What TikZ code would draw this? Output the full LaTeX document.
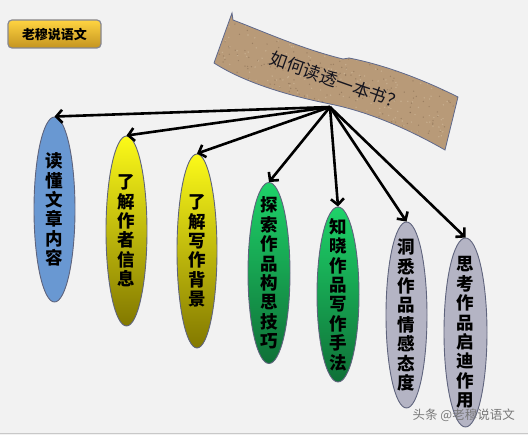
\documentclass[tikz,border=0pt]{standalone}
\usepackage{fontspec}
\newfontfamily\cjk{Noto Sans CJK SC}
\usetikzlibrary{shapes.geometric,arrows.meta}
\definecolor{bg}{RGB}{242,242,242}
\definecolor{tan}{RGB}{184,154,120}
\definecolor{tandark}{RGB}{120,95,70}
\definecolor{tanlight}{RGB}{215,195,165}
\definecolor{bandedge}{RGB}{95,105,140}
\definecolor{ellblue}{RGB}{105,152,210}
\definecolor{elledge}{RGB}{95,100,125}
\definecolor{ytop}{RGB}{252,250,25}
\definecolor{ymid}{RGB}{222,215,10}
\definecolor{ybot}{RGB}{130,120,0}
\definecolor{gtop}{RGB}{30,210,105}
\definecolor{gbot}{RGB}{15,112,55}
\definecolor{ellgray}{RGB}{180,180,196}
\definecolor{btntop}{RGB}{255,212,65}
\definecolor{btnbot}{RGB}{196,148,32}
\tikzset{
  ell/.style={ellipse, draw=elledge, line width=0.9pt, inner sep=0pt},
  blueell/.style={ell, fill=ellblue},
  yell/.style={ell, top color=ytop, middle color=ymid, bottom color=ybot},
  gell/.style={ell, top color=gtop, bottom color=gbot},
  grayell/.style={ell, fill=ellgray},
  vtext/.style={align=center, inner sep=0pt, text=black,
    font=\cjk\bfseries\fontsize{17.5}{19.4}\selectfont},
  arr/.style={line width=2.6pt, -{Straight Barb[length=6pt,width=13pt]}},
}
\begin{document}
\begin{tikzpicture}[x=1pt,y=-1pt]
\fill[bg] (0,0) rectangle (528,435);
\useasboundingbox (0,0) rectangle (528,435);
\draw[line width=1pt, color={rgb,255:red,200;green,200;blue,200}] (0,433.5) -- (528,433.5);

% button
\node[draw={rgb,255:red,135;green,135;blue,145}, line width=1.2pt, rounded corners=4pt,
  top color=btntop, bottom color=btnbot, minimum width=93pt, minimum height=28pt,
  inner sep=0pt, font=\cjk\bfseries\fontsize{13}{13}\selectfont] (btn) at (54.5,34) {老穆说语文};

% banner
\def\bannerpath{(232,13) -- (233,20) .. controls (262,31) and (302,49) .. (343,59) -- (349,58) .. controls (390,66) and (430,83) .. (458,97) -- (445,150) .. controls (410,130) and (370,112) .. (330,104) .. controls (290,96) and (245,83) .. (214,63) -- cycle}
\fill[tan] \bannerpath;
\begin{scope}
  \clip \bannerpath;
  \pgfmathsetseed{7}
  \foreach \i in {1,...,500}{
    \pgfmathsetmacro\px{210+250*rnd}
    \pgfmathsetmacro\py{10+145*rnd}
    \fill[tandark, opacity=0.45] (\px,\py) circle (0.7pt);
  }
  \foreach \i in {1,...,400}{
    \pgfmathsetmacro\px{210+250*rnd}
    \pgfmathsetmacro\py{10+145*rnd}
    \fill[tanlight, opacity=0.5] (\px,\py) circle (0.8pt);
  }
\end{scope}
\draw[bandedge, line width=0.8pt] \bannerpath;
\node[rotate=-19.5, inner sep=0pt, font=\cjk\fontsize{17.5}{17.5}\selectfont, text={rgb,255:red,20;green,20;blue,30}] (title) at (337,81) {如何读透一本书？};

\coordinate (src) at (330,107);

% ellipses
\node[blueell, minimum width=41pt, minimum height=185pt] (e1) at (54.5,209.5) {};
\node[yell, minimum width=41pt, minimum height=190pt] (e2) at (126.5,231) {};
\node[yell, minimum width=40pt, minimum height=194pt] (e3) at (197,251) {};
\node[gell, minimum width=42pt, minimum height=181pt] (e4) at (269,273) {};
\node[gell, minimum width=42pt, minimum height=175pt] (e5) at (338,294.5) {};
\node[grayell, minimum width=41pt, minimum height=186pt] (e6) at (406.5,315) {};
\node[grayell, minimum width=43pt, minimum height=189pt] (e7) at (465.5,332.5) {};

\node[vtext] (t1) at (e1) {读\\懂\\文\\章\\内\\容};
\node[vtext] (t2) at (e2) {了\\解\\作\\者\\信\\息};
\node[vtext] (t3) at (e3) {了\\解\\写\\作\\背\\景};
\node[vtext] (t4) at (e4) {探\\索\\作\\品\\构\\思\\技\\巧};
\node[vtext] (t5) at (e5) {知\\晓\\作\\品\\写\\作\\手\\法};
\node[vtext] (t6) at (e6) {洞\\悉\\作\\品\\情\\感\\态\\度};
\node[vtext] (t7) at (e7) {思\\考\\作\\品\\启\\迪\\作\\用};

% arrows
\foreach \e in {e1,e2,e3,e4,e5,e6,e7}{
  \draw[arr] (src) -- (\e.north);
}

% watermark
\node[anchor=east, inner sep=0pt, font=\cjk\fontsize{12.5}{12.5}\selectfont,
  text={rgb,255:red,120;green,120;blue,120}] (wm) at (515,415) {头条 @老穆说语文};
\end{tikzpicture}
\end{document}
